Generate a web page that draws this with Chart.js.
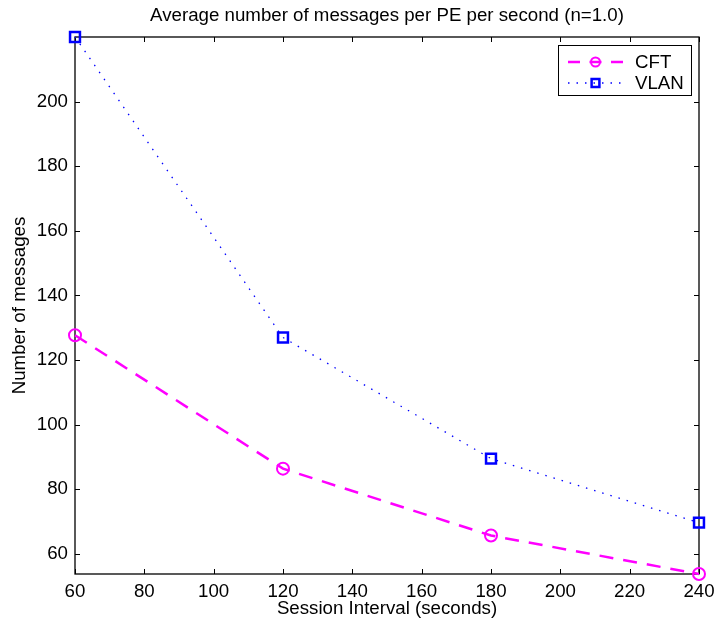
<!DOCTYPE html>
<html>
<head>
<meta charset="utf-8">
<script src="https://cdn.jsdelivr.net/npm/chart.js@4.4.1/dist/chart.umd.min.js"></script>
<style>
  html, body { margin: 0; padding: 0; background: #fff; }
  canvas { display: block; }
</style>
</head>
<body>
<canvas id="chart" width="714" height="625"></canvas>
<script>
const intervals = [60, 120, 180, 240];
const cft = [127.7, 86.4, 65.7, 53.8];
const vlan = [220, 127.0, 89.5, 69.7];
const xTicks = [60, 80, 100, 120, 140, 160, 180, 200, 220, 240];
const yTicks = [60, 80, 100, 120, 140, 160, 180, 200];

const FONT = 'Liberation Sans, Arial, Helvetica, sans-serif';
const FSIZE = 18.7;

function toPoints(vals) {
  return intervals.map((x, i) => ({ x: x, y: vals[i] }));
}

// box round the plot plus matlab-style inward ticks on all four sides
const frame = {
  id: 'frame',
  beforeDatasetsDraw(chart) {
    const { ctx, chartArea: a, scales } = chart;
    const len = 5;
    ctx.save();
    ctx.strokeStyle = '#000';
    ctx.lineWidth = 1.3;
    ctx.strokeRect(a.left, a.top, a.right - a.left, a.bottom - a.top);
    ctx.lineWidth = 1;
    ctx.beginPath();
    scales.x.ticks.forEach(t => {
      const px = Math.round(scales.x.getPixelForValue(t.value)) + 0.5;
      ctx.moveTo(px, a.bottom); ctx.lineTo(px, a.bottom - len);
      ctx.moveTo(px, a.top); ctx.lineTo(px, a.top + len);
    });
    scales.y.ticks.forEach(t => {
      const py = Math.round(scales.y.getPixelForValue(t.value)) + 0.5;
      ctx.moveTo(a.left, py); ctx.lineTo(a.left + len, py);
      ctx.moveTo(a.right, py); ctx.lineTo(a.right - len, py);
    });
    ctx.stroke();
    ctx.restore();
  }
};

// legend box drawn the matlab way: line sample with the marker in the middle
const legendBox = {
  id: 'legendBox',
  afterDraw(chart) {
    const { ctx } = chart;
    const box = { x: 558.5, y: 45.5, w: 133, h: 50 };
    const rows = [62, 83];
    const markR = [4.5, 5.5];
    const dashes = [[12, 9.5], [1.5, 7]];
    ctx.save();
    ctx.fillStyle = '#fff';
    ctx.strokeStyle = '#000';
    ctx.lineWidth = 1;
    ctx.fillRect(box.x, box.y, box.w, box.h);
    ctx.strokeRect(box.x, box.y, box.w, box.h);
    chart.data.datasets.forEach((ds, i) => {
      const y = rows[i];
      ctx.strokeStyle = ds.borderColor;
      ctx.lineWidth = ds.borderWidth;
      ctx.setLineDash(dashes[i]);
      ctx.beginPath();
      ctx.moveTo(568, y); ctx.lineTo(623, y);
      ctx.stroke();
      ctx.setLineDash([]);
      ctx.lineWidth = ds.pointBorderWidth;
      ctx.fillStyle = 'rgba(0,0,0,0)';
      Chart.helpers.drawPoint(ctx, { pointStyle: ds.pointStyle, rotation: 0, radius: markR[i], borderWidth: ds.pointBorderWidth }, 595.5, y);
      ctx.fillStyle = '#000';
      ctx.font = FSIZE + 'px ' + FONT;
      ctx.textAlign = 'left';
      ctx.textBaseline = 'middle';
      ctx.fillText(ds.label, 635, y + 1);
    });
    ctx.restore();
  }
};

new Chart(document.getElementById('chart'), {
  type: 'line',
  data: {
    datasets: [{
      label: 'CFT',
      data: toPoints(cft),
      borderColor: '#ff00ff',
      backgroundColor: 'rgba(0,0,0,0)',
      borderWidth: 2.5,
      borderDash: [14, 10],
      pointStyle: 'circle',
      pointRadius: 6,
      pointBorderWidth: 2,
      pointBorderColor: '#ff00ff',
      pointBackgroundColor: 'rgba(0,0,0,0)',
      tension: 0,
      clip: false
    }, {
      label: 'VLAN',
      data: toPoints(vlan),
      borderColor: '#0000ff',
      backgroundColor: 'rgba(0,0,0,0)',
      borderWidth: 1.3,
      borderDash: [1.5, 7],
      pointStyle: 'rect',
      pointRadius: 7,
      pointBorderWidth: 2.5,
      pointBorderColor: '#0000ff',
      pointBackgroundColor: 'rgba(0,0,0,0)',
      tension: 0,
      clip: false
    }]
  },
  options: {
    responsive: false,
    animation: false,
    layout: { padding: { left: 0, right: 15, top: 0, bottom: 0 } },
    scales: {
      // top axis only carries the chart title, centred over the plot like matlab does
      top: {
        type: 'linear',
        position: 'top',
        min: 60,
        max: 240,
        afterFit(scale) { scale.height = 37; scale.paddingLeft = 0; scale.paddingRight = 0; },
        ticks: { display: false },
        grid: { display: false, drawTicks: false },
        border: { display: false },
        title: { display: true, text: 'Average number of messages per PE per second (n=1.0)', color: '#000',
                 font: { family: FONT, size: FSIZE }, padding: { top: 4.8, bottom: 0 } }
      },
      x: {
        type: 'linear',
        position: 'bottom',
        min: 60,
        max: 240,
        afterBuildTicks(scale) { scale.ticks = xTicks.map(v => ({ value: v })); },
        afterFit(scale) { scale.height = 51; scale.paddingLeft = 0; scale.paddingRight = 0; },
        ticks: { color: '#000', font: { family: FONT, size: FSIZE }, padding: 7, maxRotation: 0, autoSkip: false },
        grid: { display: false, drawTicks: false },
        border: { display: false },
        title: { display: true, text: 'Session Interval (seconds)', color: '#000',
                 font: { family: FONT, size: FSIZE }, padding: { top: 0, bottom: 5 } }
      },
      y: {
        type: 'linear',
        min: 53.8,
        max: 220,
        afterBuildTicks(scale) { scale.ticks = yTicks.map(v => ({ value: v })); },
        afterFit(scale) { scale.width = 75; },
        ticks: { color: '#000', font: { family: FONT, size: FSIZE }, padding: 7, autoSkip: false },
        grid: { display: false, drawTicks: false },
        border: { display: false },
        title: { display: true, text: 'Number of messages', color: '#000',
                 font: { family: FONT, size: FSIZE }, padding: { top: 9, bottom: 0 } }
      }
    },
    plugins: {
      legend: { display: false },
      tooltip: { enabled: false },
      title: { display: false }
    }
  },
  plugins: [frame, legendBox]
});
</script>
</body>
</html>
